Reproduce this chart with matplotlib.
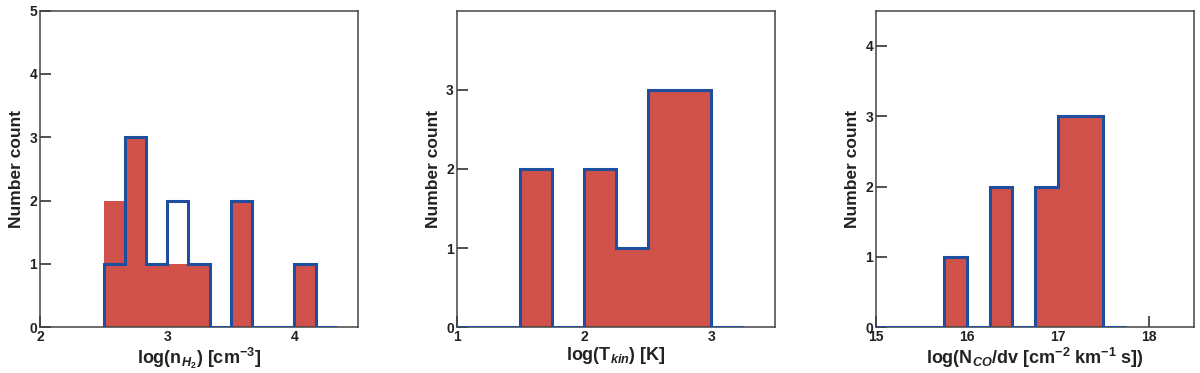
import numpy as np
import matplotlib.pyplot as plt

plt.rcParams['font.family'] = ['Liberation Sans', 'DejaVu Sans']
plt.rcParams['font.weight'] = 'bold'
plt.rcParams['mathtext.fontset'] = 'custom'
plt.rcParams['mathtext.rm'] = 'Liberation Sans:bold'
plt.rcParams['mathtext.it'] = 'Liberation Sans:bold:italic'
plt.rcParams['mathtext.bf'] = 'Liberation Sans:bold'

# panel 1: log(n_H2)
nh2_edges = [2.5, 2.667, 2.833, 3.0, 3.167, 3.333, 3.5, 3.667, 3.833, 4.0, 4.167, 4.333]
nh2_fill = [2, 3, 1, 1, 1, 0, 2, 0, 0, 1, 0]
nh2_step = [1, 3, 1, 2, 1, 0, 2, 0, 0, 1, 0]

# panel 2: log(T_kin)
tkin_edges = [1.0, 1.25, 1.5, 1.75, 2.0, 2.25, 2.5, 2.75, 3.0, 3.25]
tkin_fill = [0, 0, 2, 0, 2, 1, 3, 3, 0]
tkin_step = [0, 0, 2, 0, 2, 1, 3, 3, 0]

# panel 3: log(N_CO/dv)
nco_edges = [15.0, 15.25, 15.5, 15.75, 16.0, 16.25, 16.5, 16.75, 17.0, 17.25, 17.5, 17.75]
nco_fill = [0, 0, 0, 1, 0, 2, 0, 2, 3, 3, 0]
nco_step = [0, 0, 0, 1, 0, 2, 0, 2, 3, 3, 0]

panels = [
    (nh2_edges, nh2_fill, nh2_step, (2, 4.5), [2, 3, 4], (0, 5), [0, 1, 2, 3, 4, 5],
     r'log(n$_{H_2}$) [cm$^{\mathrm{-3}}$]', 0.0333),
    (tkin_edges, tkin_fill, tkin_step, (1, 3.5), [1, 2, 3], (0, 4), [0, 1, 2, 3],
     r'log(T$_{kin}$) [K]', 0.3806),
    (nco_edges, nco_fill, nco_step, (15, 18.5), [15, 16, 17, 18], (0, 4.5), [0, 1, 2, 3, 4],
     r'log(N$_{CO}$/dv [cm$^{\mathrm{-2}}$ km$^{\mathrm{-1}}$ s])', 0.730),
]

red = '#cf5149'
blue = '#1f4e9e'

fig = plt.figure(figsize=(12, 3.73), dpi=100)

for edges, fill, step, xl, xt, yl, yt, label, left in panels:
    ax = fig.add_axes([left, 0.1225, 0.265, 0.849])
    edges = np.array(edges)
    centers = (edges[:-1] + edges[1:]) / 2
    ax.hist(centers, bins=edges, weights=fill, color=red, zorder=2)
    ax.hist(centers, bins=edges, weights=step, histtype='step',
            color=blue, linewidth=2.2, zorder=3)
    ax.set_xlim(*xl)
    ax.set_ylim(*yl)
    ax.set_xticks(xt)
    ax.set_yticks(yt)
    ax.tick_params(direction='in', length=8, width=1.2, labelsize=10,
                   pad=2, colors='#333333', labelcolor='#222222')
    for s in ax.spines.values():
        s.set_color('#444444')
        s.set_linewidth(1.1)
    ax.set_xlabel(label, fontsize=13, fontweight='bold', color='#222222', labelpad=1)
    ax.set_ylabel('Number count', fontsize=12.5, fontweight='bold', color='#222222', labelpad=4)

fig.savefig('out.png', dpi=100)
